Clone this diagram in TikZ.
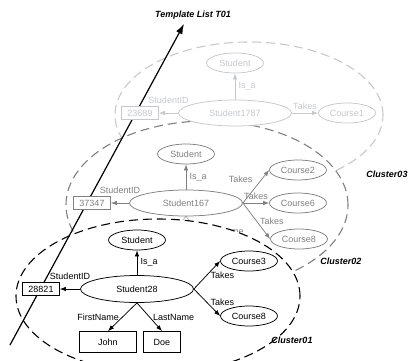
\documentclass[tikz,border=0pt]{standalone}
\usepackage{fontspec}
\setmainfont{Liberation Sans}
\usetikzlibrary{arrows,arrows.meta,positioning,shapes.geometric}
\pgfdeclarelayer{back}
\pgfdeclarelayer{mid}
\pgfsetlayers{back,mid,main}
\definecolor{faint}{RGB}{198,200,204}
\definecolor{dim}{RGB}{128,128,128}
\tikzstyle{entity}=[draw, ellipse, fill=white, inner sep=1pt, minimum width=57pt, minimum height=20pt]
\tikzstyle{instance}=[entity, minimum width=113pt, minimum height=26pt]
\tikzstyle{idbox}=[draw, rectangle, fill=white, inner sep=1pt, minimum width=37pt, minimum height=13pt]
\tikzstyle{namebox}=[idbox, minimum height=21pt]
\tikzstyle{cluster}=[dash pattern=on 9pt off 5pt, line width=1.1pt]
\tikzstyle{clustertag}=[font=\fontsize{9}{10}\selectfont\bfseries\itshape]

\begin{document}
\begin{tikzpicture}[x=1pt,y=-1pt,on grid,>={Latex[length=6pt,width=4.5pt]},font=\fontsize{9}{10}\selectfont,line width=0.75pt]
\useasboundingbox (0,0) rectangle (408,360);

% cluster 03
\begin{scope}[faint]
\node [instance] (s1787) at (235,113) {Student1787};
\node [entity] (st1787) [above=50pt of s1787] {Student};
\node [idbox] (id1787) [left=95pt of s1787] {23689};
\node [entity] (c1787) [right=112pt of s1787] {Course1};
\path[->]
(s1787) edge node[right] {Is\_a} (st1787)
(s1787) edge node[above=6pt] {StudentID} (id1787)
(s1787) edge node[above] {Takes} (c1787);
\end{scope}

% cluster 02
\begin{scope}[dim]
\node [instance] (s167) at (186,203) {Student167};
\node [entity] (st167) [above=49pt of s167] {Student};
\node [idbox] (id167) [left=94pt of s167] {37347};
\node [entity] (c2) [above right=33pt and 112pt of s167] {Course2};
\node [entity] (c6) [right=112pt of s167] {Course6};
\node [entity] (c8b) [below right=36pt and 113pt of s167] {Course8};
\coordinate (fn167) at ([shift={(-27,43)}]s167);
\coordinate (ln167) at ([shift={(26,43)}]s167);
\path[->]
(s167) edge node[right] {Is\_a} (st167)
(s167) edge node[above=6pt] {StudentID} (id167)
(s167.east) edge node[above left] {Takes} (c2.west)
(s167.east) edge node[above] {Takes} (c6.west)
(s167.east) edge node[right] {Takes} (c8b.west);
\end{scope}

% cluster 01
\node [instance, minimum height=27pt] (s28) at (137,289) {Student28};
\node [entity] (st28) [above=49pt of s28] {Student};
\node [idbox] (id28) [left=96pt of s28] {28821};
\node [entity] (c3) [above right=28pt and 112pt of s28] {Course3};
\node [entity] (c8) [below right=27pt and 112pt of s28] {Course8};
\node [namebox, minimum width=57pt] (john) [below left=53pt and 29pt of s28] {John};
\node [namebox] (doe) [below right=53pt and 25pt of s28] {Doe};
\path[->]
(s28) edge node[right] {Is\_a} (st28)
(s28) edge node[above=6pt] {StudentID} (id28)
(s28.east) edge node[right] {Takes} (c3.west)
(s28.east) edge node[right] {Takes} (c8.west)
(s28.south) edge node[left] {FirstName} (john.north)
(s28.south) edge node[right] {LastName} (doe.north);

\node [clustertag] (tag03) at (387,174) {Cluster03};
\node [clustertag] (tag02) at (341,261) {Cluster02};
\node [clustertag] (tag01) at (292,340) {Cluster01};
\node [clustertag] (tlist) at (193,15) {Template List T01};

\begin{pgfonlayer}{back}
\draw [cluster, faint] (249,115) ellipse [x radius=134pt, y radius=73pt];
\draw [cluster, dim, fill=white] (207,205) ellipse [x radius=141pt, y radius=84pt];
\path[->, dim]
(s167.south) edge (fn167)
(s167.south) edge node[right] {LastName} (ln167);
\end{pgfonlayer}

\begin{pgfonlayer}{mid}
\draw [cluster, fill=white] (158,296) ellipse [x radius=142pt, y radius=77pt];
\coordinate (tl0) at (10,345);
\coordinate (tl1) at (184,24);
\draw [-{Latex[length=10pt,width=7pt]}, line width=1.2pt] (tl0) -- (tl1);
\end{pgfonlayer}
\end{tikzpicture}
\end{document}
